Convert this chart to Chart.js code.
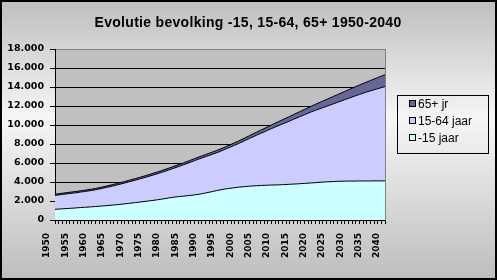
<!DOCTYPE html>
<html>
<head>
<meta charset="utf-8">
<title>Evolutie bevolking</title>
<script src="https://cdn.jsdelivr.net/npm/chart.js@4.4.1/dist/chart.umd.min.js"></script>
<style>
  html, body { margin: 0; padding: 0; background: #fff; }
  #wrap { width: 497px; height: 280px; }
</style>
</head>
<body>
<div id="wrap"><canvas id="chart" width="497" height="280"></canvas></div>
<script>
// years on the x axis (labels shown every 5 years)
const years = [
  1950, 1951, 1952, 1953, 1954, 1955, 1956, 1957, 1958, 1959,
  1960, 1961, 1962, 1963, 1964, 1965, 1966, 1967, 1968, 1969,
  1970, 1971, 1972, 1973, 1974, 1975, 1976, 1977, 1978, 1979,
  1980, 1981, 1982, 1983, 1984, 1985, 1986, 1987, 1988, 1989,
  1990, 1991, 1992, 1993, 1994, 1995, 1996, 1997, 1998, 1999,
  2000, 2001, 2002, 2003, 2004, 2005, 2006, 2007, 2008, 2009,
  2010, 2011, 2012, 2013, 2014, 2015, 2016, 2017, 2018, 2019,
  2020, 2021, 2022, 2023, 2024, 2025, 2026, 2027, 2028, 2029,
  2030, 2031, 2032, 2033, 2034, 2035, 2036, 2037, 2038, 2039,
  2040
];

// -15 jaar
const under15 = [
  1130, 1150, 1175, 1200, 1225, 1250, 1280, 1310, 1335, 1360,
  1390, 1420, 1450, 1480, 1510, 1545, 1580, 1620, 1660, 1700,
  1745, 1790, 1835, 1880, 1930, 1980, 2030, 2080, 2130, 2190,
  2250, 2320, 2380, 2430, 2470, 2510, 2550, 2590, 2640, 2690,
  2760, 2840, 2920, 3000, 3090, 3170, 3240, 3300, 3350, 3400,
  3450, 3490, 3530, 3560, 3590, 3610, 3630, 3650, 3660, 3680,
  3690, 3700, 3720, 3740, 3760, 3780, 3800, 3830, 3850, 3880,
  3900, 3930, 3960, 3990, 4010, 4030, 4050, 4070, 4080, 4090,
  4100, 4100, 4100, 4110, 4110, 4110, 4110, 4120, 4120, 4120,
  4120
];

// 15-64 jaar
const age15to64 = [
  1460, 1489, 1513, 1537, 1561, 1585, 1604, 1633, 1657, 1691,
  1720, 1758, 1806, 1854, 1912, 1965, 2018, 2076, 2134, 2192,
  2255, 2307, 2369, 2431, 2488, 2545, 2612, 2679, 2746, 2813,
  2880, 2937, 3014, 3101, 3198, 3295, 3392, 3499, 3596, 3693,
  3760, 3816, 3872, 3928, 3974, 4040, 4136, 4242, 4358, 4474,
  4590, 4728, 4866, 5014, 5162, 5320, 5474, 5618, 5782, 5936,
  6090, 6240, 6380, 6520, 6660, 6810, 6950, 7080, 7220, 7360,
  7500, 7610, 7720, 7830, 7950, 8070, 8190, 8310, 8440, 8570,
  8700, 8840, 8980, 9100, 9230, 9360, 9480, 9590, 9700, 9810,
  9920
];

// 65+ jr
const over65 = [
  130, 131, 132, 133, 134, 135, 136, 137, 138, 139,
  140, 142, 144, 146, 148, 150, 152, 154, 156, 158,
  160, 163, 166, 169, 172, 175, 178, 181, 184, 187,
  190, 193, 196, 199, 202, 205, 208, 211, 214, 217,
  220, 224, 228, 232, 236, 240, 244, 248, 252, 256,
  260, 272, 284, 296, 308, 320, 336, 352, 368, 384,
  400, 420, 440, 460, 480, 500, 520, 540, 560, 580,
  600, 630, 660, 690, 720, 750, 780, 810, 840, 870,
  900, 930, 960, 990, 1020, 1050, 1090, 1130, 1170, 1210,
  1250
];

const yMax = 18000;
const yStep = 2000;

// 12000 -> "12.000"
const fmt = (v) => String(v).replace(/\B(?=(\d{3})+(?!\d))/g, '.');

// background, plot area, title, legend and the frame
const excelLook = {
  id: 'excelLook',
  beforeDraw(chart) {
    const { ctx, width, height, chartArea: a } = chart;
    ctx.save();
    const g = ctx.createLinearGradient(0, 0, 0, height);
    g.addColorStop(0, '#bebebe');
    g.addColorStop(0.42, '#f6f6f6');
    g.addColorStop(1, '#bdbdbd');
    ctx.fillStyle = g;
    ctx.fillRect(0, 0, width, height);
    ctx.fillStyle = '#c0c0c0';
    ctx.fillRect(a.left, a.top, a.right - a.left, a.bottom - a.top);
    ctx.restore();
  },
  afterDraw(chart) {
    const { ctx, width, height, chartArea: a } = chart;
    ctx.save();

    // right edge of the plot area
    ctx.strokeStyle = '#808080';
    ctx.lineWidth = 1;
    ctx.beginPath();
    ctx.moveTo(Math.round(a.right) + 0.5, a.top);
    ctx.lineTo(Math.round(a.right) + 0.5, a.bottom);
    ctx.stroke();

    // title
    ctx.fillStyle = '#000';
    ctx.font = 'bold 14px "Liberation Sans", Arial, sans-serif';
    ctx.letterSpacing = '0.3px';
    ctx.textAlign = 'center';
    ctx.textBaseline = 'middle';
    ctx.fillText('Evolutie bevolking -15, 15-64, 65+ 1950-2040', 248, 23.5);
    ctx.letterSpacing = '0px';

    // legend
    ctx.strokeStyle = '#000';
    ctx.strokeRect(397.5, 95.5, 91, 58);
    ctx.font = '12px "Liberation Sans", Arial, sans-serif';
    ctx.textAlign = 'left';
    const items = chart.data.datasets.slice().reverse();
    items.forEach((ds, i) => {
      const y = 104 + i * 17;
      ctx.fillStyle = ds.backgroundColor;
      ctx.fillRect(409.5, y - 3.5, 6, 6);
      ctx.strokeRect(409.5, y - 3.5, 6, 6);
      ctx.fillStyle = '#000';
      ctx.fillText(ds.label, 418, y + 0.5);
    });

    // outer frame
    ctx.lineWidth = 2;
    ctx.strokeRect(1, 1, width - 2, height - 2);
    ctx.restore();
  }
};

const common = { borderColor: '#000', borderWidth: 1, pointRadius: 0, tension: 0 };

new Chart(document.getElementById('chart'), {
  type: 'line',
  data: {
    labels: years,
    datasets: [
      { ...common, label: '-15 jaar', data: under15, backgroundColor: '#ccffff', fill: 'origin' },
      { ...common, label: '15-64 jaar', data: age15to64, backgroundColor: '#ccccff', fill: '-1' },
      { ...common, label: '65+ jr', data: over65, backgroundColor: '#666699', fill: '-1' }
    ]
  },
  options: {
    responsive: false,
    animation: false,
    devicePixelRatio: 1,
    layout: { padding: { top: 49, right: 112, bottom: 0, left: 0 } },
    plugins: {
      legend: { display: false },
      title: { display: false },
      tooltip: { enabled: false }
    },
    scales: {
      x: {
        offset: false,
        afterFit: (scale) => { scale.height = 60; },
        grid: { drawOnChartArea: false, drawTicks: true, tickLength: 4, tickColor: '#000' },
        border: { color: '#000' },
        ticks: {
          autoSkip: false,
          minRotation: 90,
          maxRotation: 90,
          padding: 9,
          labelOffset: -8,
          color: '#000',
          font: { family: '"DejaVu Sans", sans-serif', size: 9, weight: 'bold' },
          callback: (v, i) => (years[i] % 5 === 0 ? String(years[i]) : '')
        }
      },
      y: {
        stacked: true,
        min: 0,
        max: yMax,
        afterFit: (scale) => { scale.width = 55; },
        grid: {
          color: (c) => (c.tick && c.tick.value === yMax ? '#808080' : '#000'),
          tickColor: '#000',
          tickLength: 5,
          lineWidth: 1
        },
        border: { color: '#000' },
        ticks: {
          stepSize: yStep,
          padding: 6,
          color: '#000',
          font: { family: '"DejaVu Sans", sans-serif', size: 9.5, weight: 'bold' },
          callback: (v) => fmt(v)
        }
      }
    }
  },
  plugins: [excelLook]
});
</script>
</body>
</html>
